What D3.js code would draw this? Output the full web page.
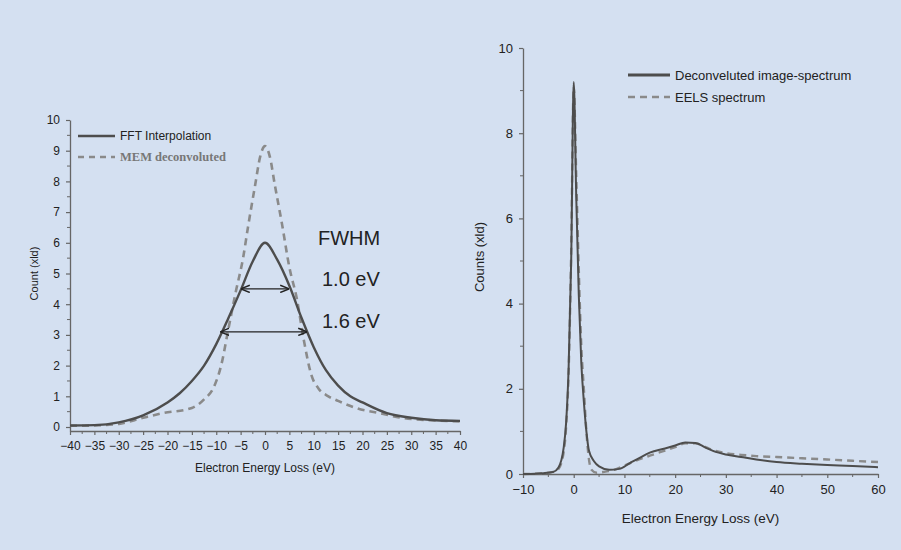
<!DOCTYPE html>
<html>
<head>
<meta charset="utf-8">
<script src="https://cdn.jsdelivr.net/npm/d3@7"></script>
<style>
	html, body { margin: 0; padding: 0; background: #d4e0f1; }
	svg { display: block; font-family: "Liberation Sans", Arial, sans-serif; }
</style>
</head>
<body>
<div id="wrapper"></div>
<script>
// left panel: FWHM comparison
const fftEnergy = [-40, -35, -30, -25, -20, -17.5, -15, -12.5, -10, -7.5, -5, -2.5, 0, 2.5, 5, 7.5, 10, 12.5, 15, 17.5, 20, 25, 30, 35, 40];
const fftCounts = [0.05, 0.06, 0.15, 0.38, 0.8, 1.1, 1.5, 2.0, 2.7, 3.55, 4.45, 5.4, 6.0, 5.45, 4.6, 3.55, 2.6, 1.85, 1.35, 1.0, 0.8, 0.45, 0.3, 0.22, 0.2];
const memEnergy = [-40, -35, -30, -25, -21, -15, -12.5, -10.5, -9, -7.5, -6, -4.5, -3.5, -2, -1, 0, 1, 2, 3.5, 5, 6.5, 8, 9.5, 11, 13, 15, 19, 23.5, 28, 34, 40];
const memCounts = [0.04, 0.05, 0.1, 0.3, 0.45, 0.62, 0.9, 1.3, 2.0, 3.2, 4.4, 5.5, 6.5, 7.9, 8.8, 9.15, 8.8, 7.9, 6.6, 5.2, 4.2, 2.8, 1.7, 1.25, 1.0, 0.85, 0.6, 0.45, 0.3, 0.22, 0.18];
const leftXTicks = d3.range(-40, 41, 5);
const leftYTicks = d3.range(0, 11, 1);
const fwhmLabels = ["FWHM", "1.0 eV", "1.6 eV"];
const fwhmArrows = [
	{ from: -4.8, to: 4.8, level: 4.5 },
	{ from: -9, to: 8.5, level: 3.1 },
];

// right panel: full spectrum
const specEnergy = [-10, -6, -4, -3, -2, -1.5, -1, -0.5, 0, 0.5, 1, 1.5, 2, 2.5, 3, 4, 5, 7, 9, 11, 13, 15, 18, 20, 22, 24, 26, 28, 30, 33, 36, 40, 45, 50, 55, 60];
const deconvCounts = [0.0, 0.02, 0.05, 0.15, 0.6, 1.2, 2.5, 5.0, 9.2, 6.5, 4.2, 2.6, 1.7, 1.0, 0.55, 0.3, 0.18, 0.1, 0.12, 0.25, 0.38, 0.5, 0.6, 0.67, 0.74, 0.73, 0.62, 0.52, 0.46, 0.4, 0.34, 0.28, 0.24, 0.21, 0.19, 0.16];
const eelsEnergy = [-10, -6, -4, -3, -2, -1.5, -1, -0.5, 0, 0.5, 1, 1.5, 2, 2.5, 3, 3.5, 4.5, 6, 8, 10, 12, 15, 18, 20, 22, 24, 26, 28, 30, 33, 36, 40, 45, 50, 55, 60];
const eelsCounts = [0.0, 0.02, 0.05, 0.12, 0.5, 1.1, 2.4, 5.2, 9.1, 7.0, 4.8, 3.0, 2.0, 1.0, 0.35, 0.1, 0.03, 0.05, 0.1, 0.2, 0.3, 0.43, 0.55, 0.63, 0.72, 0.72, 0.63, 0.54, 0.49, 0.45, 0.42, 0.4, 0.37, 0.34, 0.31, 0.28];
const rightXTicks = d3.range(-10, 61, 10);
const rightYTicks = d3.range(0, 11, 2);

const zip = (xs, ys) => xs.map((x, i) => ({ x, y: ys[i] }));

const svg = d3
	.select("#wrapper")
	.append("svg")
	.attr("width", 901)
	.attr("height", 550);

svg.append("rect").attr("width", 901).attr("height", 550).attr("fill", "#d4e0f1");

const axisColor = "#666";
const solidColor = "#4d4d4d";
const dashColor = "#8a8a8a";

svg.append("defs")
	.append("marker")
	.attr("id", "arrow")
	.attr("viewBox", "0 0 10 10")
	.attr("refX", 9)
	.attr("refY", 5)
	.attr("markerWidth", 7)
	.attr("markerHeight", 7)
	.attr("orient", "auto-start-reverse")
	.append("path")
	.attr("d", "M0,1 L10,5 L0,9")
	.attr("fill", "none")
	.attr("stroke", "#222")
	.attr("stroke-width", 1.6);

function styleAxis(g, size) {
	g.select(".domain").attr("stroke", axisColor).attr("stroke-width", 1.3);
	g.selectAll(".tick line").attr("stroke", axisColor).attr("stroke-width", 1.2);
	g.selectAll(".tick text").attr("fill", "#222").style("font-size", size + "px");
}

function minorTicks(g, values, scale, dir, len) {
	g.selectAll(null)
		.data(values)
		.join("line")
		.attr("stroke", axisColor)
		.attr("stroke-width", 1)
		.attr(dir === "x" ? "x1" : "y1", scale)
		.attr(dir === "x" ? "x2" : "y2", scale)
		.attr(dir === "x" ? "y1" : "x1", 0)
		.attr(dir === "x" ? "y2" : "x2", dir === "x" ? len : -len);
}

// ---------- left chart ----------
const lx = d3.scaleLinear().domain([-40, 40]).range([70, 460]);
const ly = d3.scaleLinear().domain([-0.13, 10]).range([431, 120]);

const leftX = svg.append("g")
	.attr("transform", `translate(0, ${ly(-0.13)})`)
	.call(d3.axisBottom(lx).tickValues(leftXTicks).tickSize(4).tickSizeOuter(0).tickPadding(6));
styleAxis(leftX, 12);
minorTicks(leftX, d3.range(-37.5, 40, 5), lx, "x", 3);

const leftY = svg.append("g")
	.attr("transform", `translate(${lx(-40)}, 0)`)
	.call(d3.axisLeft(ly).tickValues(leftYTicks).tickSize(4).tickSizeOuter(0).tickPadding(6));
styleAxis(leftY, 12);
minorTicks(leftY, d3.range(0.5, 10, 1), ly, "y", 3);

svg.append("text")
	.attr("x", lx(0)).attr("y", 472)
	.attr("text-anchor", "middle")
	.style("font-size", "12px").attr("fill", "#222")
	.text("Electron Energy Loss (eV)");

svg.append("text")
	.attr("transform", `translate(38, ${ly(5)}) rotate(-90)`)
	.attr("text-anchor", "middle")
	.style("font-size", "11px").attr("fill", "#222")
	.text("Count (xld)");

const leftLine = d3.line()
	.x((d) => lx(d.x))
	.y((d) => ly(d.y))
	.curve(d3.curveMonotoneX);

svg.append("path")
	.attr("d", leftLine(zip(memEnergy, memCounts)))
	.attr("fill", "none")
	.attr("stroke", dashColor)
	.attr("stroke-width", 2.6)
	.attr("stroke-dasharray", "7,5");

svg.append("path")
	.attr("d", leftLine(zip(fftEnergy, fftCounts)))
	.attr("fill", "none")
	.attr("stroke", solidColor)
	.attr("stroke-width", 2.4);

svg.selectAll(".fwhm-arrow")
	.data(fwhmArrows)
	.join("line")
	.attr("class", "fwhm-arrow")
	.attr("x1", (d) => lx(d.from))
	.attr("x2", (d) => lx(d.to))
	.attr("y1", (d) => ly(d.level))
	.attr("y2", (d) => ly(d.level))
	.attr("stroke", "#222")
	.attr("stroke-width", 1.3)
	.attr("marker-start", "url(#arrow)")
	.attr("marker-end", "url(#arrow)");

svg.selectAll(".fwhm-label")
	.data(fwhmLabels)
	.join("text")
	.attr("class", "fwhm-label")
	.attr("x", (d, i) => (i === 0 ? 318 : 322))
	.attr("y", (d, i) => [245, 286, 328][i])
	.style("font-size", "20px")
	.attr("fill", "#222")
	.text((d) => d);

// left legend
const leftLegend = svg.append("g");
leftLegend.append("line")
	.attr("x1", 78).attr("x2", 115).attr("y1", 136).attr("y2", 136)
	.attr("stroke", solidColor).attr("stroke-width", 2.4);
leftLegend.append("text")
	.attr("x", 120).attr("y", 140)
	.style("font-size", "12px").attr("fill", "#222")
	.text("FFT Interpolation");
leftLegend.append("line")
	.attr("x1", 78).attr("x2", 115).attr("y1", 157).attr("y2", 157)
	.attr("stroke", dashColor).attr("stroke-width", 2.4)
	.attr("stroke-dasharray", "6,5");
leftLegend.append("text")
	.attr("x", 120).attr("y", 161)
	.style("font-size", "12.5px")
	.style("font-family", "'Liberation Serif', 'Times New Roman', serif")
	.style("font-weight", "bold")
	.attr("fill", "#777")
	.text("MEM deconvoluted");

// ---------- right chart ----------
const rx = d3.scaleLinear().domain([-10, 60]).range([523, 878]);
const ry = d3.scaleLinear().domain([0, 10]).range([474, 48]);

const rightX = svg.append("g")
	.attr("transform", `translate(0, ${ry(0)})`)
	.call(d3.axisBottom(rx).tickValues(rightXTicks).tickSize(4).tickSizeOuter(0).tickPadding(7));
styleAxis(rightX, 13);
minorTicks(rightX, d3.range(-5, 60, 10), rx, "x", 3);

const rightY = svg.append("g")
	.attr("transform", `translate(${rx(-10)}, 0)`)
	.call(d3.axisLeft(ry).tickValues(rightYTicks).tickSize(4).tickSizeOuter(0).tickPadding(6));
styleAxis(rightY, 13);
minorTicks(rightY, d3.range(1, 10, 2), ry, "y", 3);

svg.append("text")
	.attr("x", (rx(-10) + rx(60)) / 2).attr("y", 523)
	.attr("text-anchor", "middle")
	.style("font-size", "13.5px").attr("fill", "#222")
	.text("Electron Energy Loss (eV)");

svg.append("text")
	.attr("transform", `translate(484, ${ry(5) - 4}) rotate(-90)`)
	.attr("text-anchor", "middle")
	.style("font-size", "13px").attr("fill", "#222")
	.text("Counts (xld)");

const rightLine = d3.line()
	.x((d) => rx(d.x))
	.y((d) => ry(d.y))
	.curve(d3.curveMonotoneX);

svg.append("path")
	.attr("d", rightLine(zip(eelsEnergy, eelsCounts)))
	.attr("fill", "none")
	.attr("stroke", dashColor)
	.attr("stroke-width", 2.4)
	.attr("stroke-dasharray", "7,5");

svg.append("path")
	.attr("d", rightLine(zip(specEnergy, deconvCounts)))
	.attr("fill", "none")
	.attr("stroke", solidColor)
	.attr("stroke-width", 2);

// right legend
const rightLegend = svg.append("g");
rightLegend.append("line")
	.attr("x1", 628).attr("x2", 670).attr("y1", 75).attr("y2", 75)
	.attr("stroke", solidColor).attr("stroke-width", 3);
rightLegend.append("text")
	.attr("x", 675).attr("y", 80)
	.style("font-size", "13px").attr("fill", "#222")
	.text("Deconveluted image-spectrum");
rightLegend.append("line")
	.attr("x1", 628).attr("x2", 670).attr("y1", 97).attr("y2", 97)
	.attr("stroke", dashColor).attr("stroke-width", 2.4)
	.attr("stroke-dasharray", "7,5");
rightLegend.append("text")
	.attr("x", 675).attr("y", 102)
	.style("font-size", "13px").attr("fill", "#222")
	.text("EELS spectrum");
</script>
</body>
</html>
